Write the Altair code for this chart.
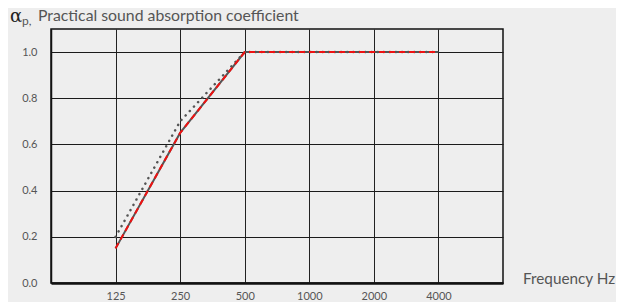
import altair as alt
import pandas as pd

freq_labels = ["125", "250", "500", "1000", "2000", "4000"]
positions = [1, 2, 3, 4, 5, 6]
measured = [0.15, 0.65, 1.0, 1.0, 1.0, 1.0]
practical = [0.2, 0.7, 1.0, 1.0, 1.0, 1.0]

df = pd.DataFrame({"pos": positions, "freq": freq_labels,
                   "measured": measured, "practical": practical})

FONT = "Lato"
TXT = "#555555"

label_expr = "{1:'125',2:'250',3:'500',4:'1000',5:'2000',6:'4000'}[datum.value] || ''"

x_enc = alt.X("pos:Q", scale=alt.Scale(domain=[0, 7], nice=False, zero=False),
              axis=alt.Axis(values=positions, labelExpr=label_expr, title=None,
                            grid=True, gridColor="#222222", gridWidth=1,
                            ticks=False, domainColor="#111111", domainWidth=2.5,
                            labelFont=FONT, labelFontSize=11, labelColor=TXT,
                            labelPadding=7))
y_vals = [round(i * 0.1, 1) for i in range(12)]
y_enc = alt.Y("measured:Q", scale=alt.Scale(domain=[0, 1.1], nice=False),
              axis=alt.Axis(values=y_vals,
                            labelExpr="(round(datum.value*10) % 2 == 0 && datum.value < 1.05) ? format(datum.value, '.1f') : ''",
                            title=None, grid=True, gridColor="#1a1a1a", gridWidth=1,
                            ticks=False, domainColor="#111111", domainWidth=1.5,
                            labelFont=FONT, labelFontSize=11, labelColor=TXT,
                            labelPadding=14))

base = alt.Chart(df)

solid = base.mark_line(color="#555555", strokeWidth=2).encode(x=x_enc, y=y_enc)
dashed = base.mark_line(color="#ee1111", strokeWidth=2, strokeDash=[6, 4]).encode(x="pos:Q", y="measured:Q")
dotted = base.mark_line(color="#555555", strokeWidth=2.5, strokeDash=[0.1, 6],
                        strokeCap="round").encode(x="pos:Q", y=alt.Y("practical:Q"))

alpha = alt.Chart(pd.DataFrame({"a": [0]})).mark_text(
    text="α", font="DejaVu Serif", fontSize=18, color="#222222", align="left", baseline="alphabetic"
).encode(x=alt.value(-41), y=alt.value(-7))
sub = alt.Chart(pd.DataFrame({"a": [0]})).mark_text(
    text="p,", font=FONT, fontSize=12, color=TXT, align="left", baseline="alphabetic"
).encode(x=alt.value(-29), y=alt.value(-4))
title = alt.Chart(pd.DataFrame({"a": [0]})).mark_text(
    text="Practical sound absorption coefficient", font=FONT, fontSize=15.8, color=TXT,
    align="left", baseline="alphabetic"
).encode(x=alt.value(-13), y=alt.value(-8))
xtitle = alt.Chart(pd.DataFrame({"a": [0]})).mark_text(
    text="Frequency Hz", font=FONT, fontSize=15.3, color=TXT, align="left", baseline="alphabetic"
).encode(x=alt.value(472), y=alt.value(255))

chart = alt.layer(dotted, solid, dashed, alpha, sub, title, xtitle).properties(
    width=452, height=254,
    autosize=alt.AutoSizeParams(type="none"),
    padding={"left": 43, "top": 21, "right": 113, "bottom": 22},
    background="#eeeeee",
).configure_view(stroke="#111111", strokeWidth=1.5)

chart.save("out.html", embed_options={"renderer": "svg", "actions": False})
